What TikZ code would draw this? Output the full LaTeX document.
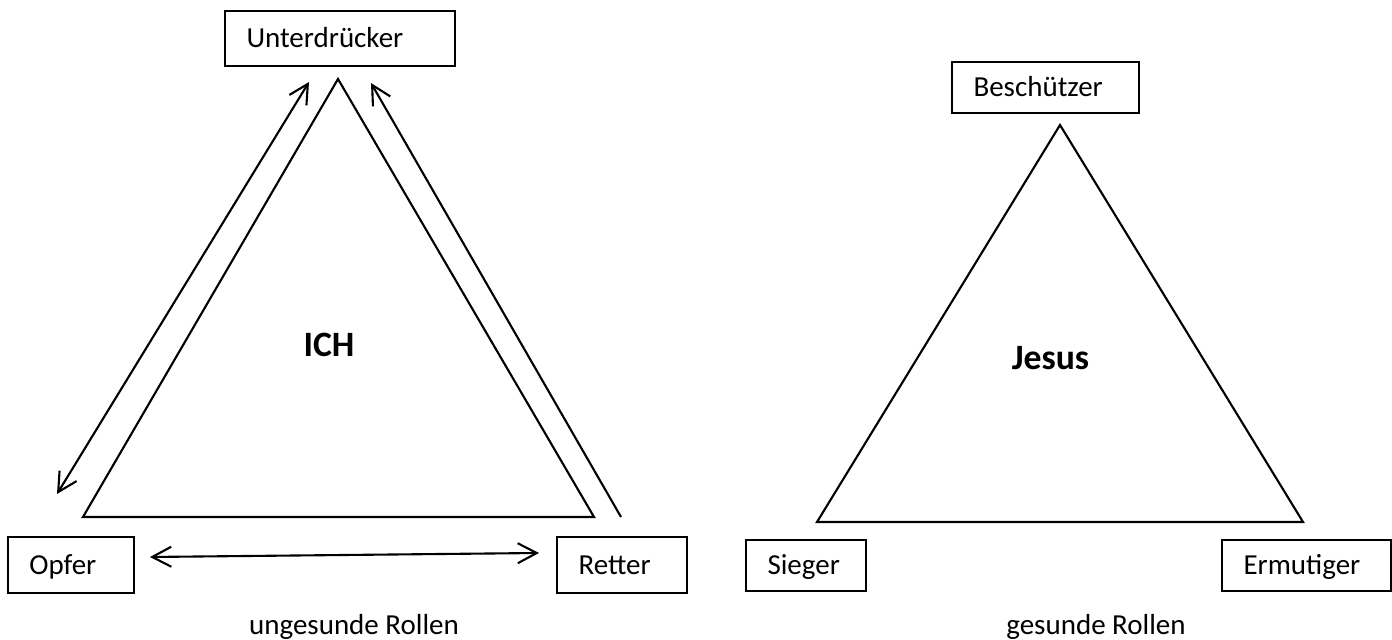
\documentclass[tikz,border=0pt]{standalone}
\usepackage{fontspec}
\setmainfont{Carlito}
\usetikzlibrary{arrows.meta}

% Role name set flush left in a box of fixed width.
\newcommand{\roletext}[2]{\makebox[#1][l]{#2}}

\begin{document}
\begin{tikzpicture}[font=\fontsize{16.5}{20}\selectfont]

\definecolor{roleink}{HTML}{000000}

\tikzset{
  rolebox/.style={
    draw=roleink, rectangle, line width=1.2pt,
    inner xsep=0.43cm, inner ysep=0pt, minimum height=1.06cm,
    text height=10.6pt, text depth=0pt
  },
  triangleedge/.style={draw=roleink, line width=1.2pt, line join=miter},
  roleedge/.style={
    draw=roleink, line width=1.2pt, -{Straight Barb[length=3.8mm,width=4.0mm]}
  },
  bothedge/.style={
    roleedge, {Straight Barb[length=3.8mm,width=4.0mm]}-{Straight Barb[length=3.8mm,width=4.0mm]}
  },
  centrelabel/.style={font=\fontsize{20.3}{24}\selectfont\bfseries},
  captionlabel/.style={text height=10.6pt, text depth=0pt}
}

\useasboundingbox (0,0) rectangle (27.84,12.8);

% Unhealthy triangle: roles.
\node[rolebox, minimum height=1.1cm]  (unterdruecker) at (6.80,12.03) {\roletext{3.74cm}{Unterdrücker}};
\node[rolebox, minimum height=1.12cm] (opfer)         at (1.42,1.50)  {\roletext{1.66cm}{Opfer}};
\node[rolebox, minimum height=1.12cm] (retter)        at (12.44,1.50) {\roletext{1.74cm}{Retter}};

% Unhealthy triangle: corners.
\coordinate (ichtop)   at (6.76,11.22);
\coordinate (ichleft)  at (1.66,2.46);
\coordinate (ichright) at (11.88,2.46);
\draw[triangleedge] (ichtop) -- (ichleft) -- (ichright) -- cycle;

\node[centrelabel] (ich) at (6.58,5.91) {ICH};

% Moves between the unhealthy roles.
\coordinate (leftup)    at (6.18,11.16);
\coordinate (leftdown)  at (1.14,2.92);
\coordinate (rightup)   at (7.42,11.14);
\coordinate (rightdown) at (12.42,2.46);
\coordinate (baseleft)  at (3.00,1.66);
\coordinate (baseright) at (10.78,1.74);
\draw[bothedge] (leftdown) -- (leftup);
\draw[roleedge] (rightdown) -- (rightup);
\draw[bothedge] (baseleft) -- (baseright);

\node[captionlabel] (ungesund) at (7.08,0.30) {ungesunde Rollen};

% Healthy triangle: roles.
\node[rolebox, minimum height=1.02cm] (beschuetzer) at (20.91,11.05) {\roletext{2.88cm}{Beschützer}};
\node[rolebox, minimum height=1.02cm] (sieger)      at (16.12,1.49)  {\roletext{1.54cm}{Sieger}};
\node[rolebox, minimum height=1.02cm] (ermutiger)   at (26.13,1.49)  {\roletext{2.52cm}{Ermutiger}};

% Healthy triangle: corners.
\coordinate (jesustop)   at (21.20,10.30);
\coordinate (jesusleft)  at (16.34,2.36);
\coordinate (jesusright) at (26.06,2.36);
\draw[triangleedge] (jesustop) -- (jesusleft) -- (jesusright) -- cycle;

\node[centrelabel] (jesus) at (21.01,5.64) {Jesus};

\node[captionlabel] (gesund) at (21.92,0.30) {gesunde Rollen};

\end{tikzpicture}
\end{document}
